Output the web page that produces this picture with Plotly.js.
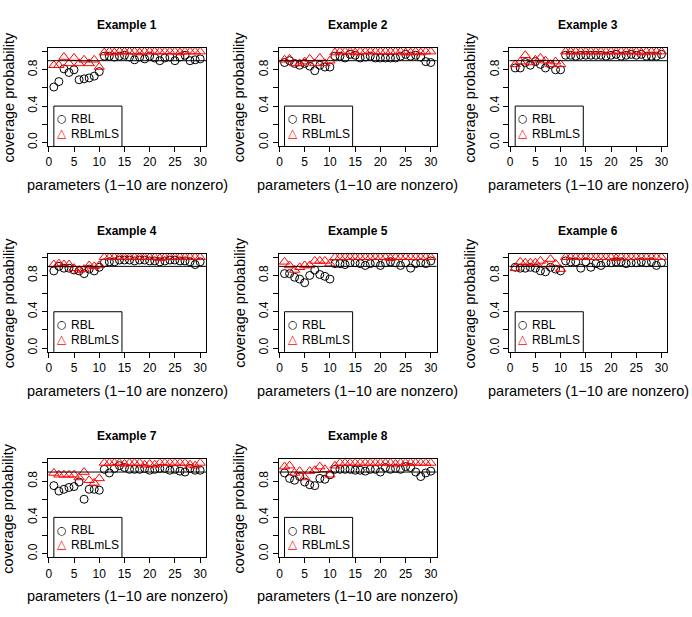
<!DOCTYPE html>
<html>
<head>
<meta charset="utf-8">
<script src="https://cdn.plot.ly/plotly-3.0.1.min.js"></script>
<style>
  html, body { margin: 0; padding: 0; background: #fff; }
  #plot { width: 692px; height: 617px; }
</style>
</head>
<body>
<div id="plot"></div>
<script>
// parameter index (1-10 are nonzero)
const params = [1, 2, 3, 4, 5, 6, 7, 8, 9, 10, 11, 12, 13, 14, 15, 16, 17, 18, 19, 20,
  21, 22, 23, 24, 25, 26, 27, 28, 29, 30];

const exampleNames = ["Example 1", "Example 2", "Example 3", "Example 4",
  "Example 5", "Example 6", "Example 7", "Example 8"];

// coverage probability, RBL
const rbl1 = [0.61, 0.67, 0.81, 0.77, 0.80, 0.69, 0.70, 0.71, 0.73, 0.78,
  0.95, 0.95, 0.94, 0.95, 0.96, 0.94, 0.91, 0.94, 0.92, 0.95,
  0.93, 0.90, 0.93, 0.94, 0.90, 0.94, 0.96, 0.90, 0.91, 0.92];
const rbl2 = [0.88, 0.90, 0.87, 0.85, 0.87, 0.84, 0.79, 0.85, 0.83, 0.83,
  0.95, 0.95, 0.93, 0.97, 0.96, 0.93, 0.94, 0.95, 0.93, 0.93,
  0.93, 0.93, 0.93, 0.95, 0.97, 0.95, 0.96, 0.94, 0.89, 0.88];
const rbl3 = [0.82, 0.82, 0.88, 0.85, 0.89, 0.86, 0.82, 0.86, 0.80, 0.80,
  0.96, 0.96, 0.95, 0.96, 0.96, 0.96, 0.96, 0.96, 0.95, 0.96,
  0.97, 0.95, 0.96, 0.97, 0.96, 0.97, 0.95, 0.95, 0.95, 0.97];
const rbl4 = [0.85, 0.90, 0.88, 0.88, 0.86, 0.85, 0.82, 0.87, 0.85, 0.89,
  0.94, 0.95, 0.95, 0.97, 0.97, 0.97, 0.96, 0.97, 0.97, 0.96,
  0.96, 0.95, 0.96, 0.97, 0.97, 0.96, 0.96, 0.95, 0.92, 0.95];
const rbl5 = [0.82, 0.82, 0.78, 0.76, 0.72, 0.80, 0.86, 0.81, 0.79, 0.76,
  0.93, 0.93, 0.92, 0.94, 0.94, 0.93, 0.91, 0.93, 0.94, 0.91,
  0.94, 0.95, 0.94, 0.91, 0.94, 0.88, 0.93, 0.94, 0.93, 0.96];
const rbl6 = [0.89, 0.88, 0.88, 0.89, 0.88, 0.85, 0.84, 0.89, 0.87, 0.85,
  0.96, 0.95, 0.95, 0.88, 0.95, 0.89, 0.93, 0.91, 0.94, 0.94,
  0.95, 0.95, 0.93, 0.94, 0.94, 0.95, 0.94, 0.95, 0.91, 0.94];
const rbl7 = [0.75, 0.69, 0.71, 0.73, 0.74, 0.79, 0.60, 0.71, 0.71, 0.70,
  0.93, 0.89, 0.94, 0.97, 0.95, 0.93, 0.93, 0.93, 0.94, 0.92,
  0.93, 0.94, 0.94, 0.92, 0.93, 0.91, 0.90, 0.94, 0.92, 0.92];
const rbl8 = [0.89, 0.83, 0.81, 0.85, 0.79, 0.76, 0.75, 0.83, 0.82, 0.87,
  0.93, 0.93, 0.93, 0.93, 0.92, 0.92, 0.91, 0.93, 0.93, 0.90,
  0.95, 0.93, 0.94, 0.93, 0.96, 0.95, 0.90, 0.85, 0.89, 0.91];

// coverage probability, RBLmLS
const mls1 = [0.85, 0.85, 0.94, 0.87, 0.93, 0.87, 0.91, 0.87, 0.91, 0.83,
  0.99, 1.00, 0.99, 1.00, 1.00, 1.00, 1.00, 0.99, 1.00, 1.00,
  1.00, 1.00, 1.00, 1.00, 1.00, 0.99, 1.00, 1.00, 1.00, 1.00];
const mls2 = [0.91, 0.92, 0.87, 0.87, 0.89, 0.92, 0.87, 0.93, 0.87, 0.90,
  0.99, 1.00, 1.00, 1.00, 0.99, 1.00, 1.00, 1.00, 1.00, 1.00,
  1.00, 1.00, 1.00, 1.00, 0.99, 0.99, 1.00, 0.99, 1.00, 1.00];
const mls3 = [0.86, 0.89, 0.96, 0.88, 0.91, 0.93, 0.90, 0.86, 0.89, 0.86,
  1.00, 1.00, 1.00, 1.00, 1.00, 1.00, 1.00, 1.00, 1.00, 1.00,
  1.00, 1.00, 1.00, 1.00, 1.00, 0.99, 1.00, 1.00, 1.00, 1.00];
const mls4 = [0.92, 0.93, 0.92, 0.92, 0.88, 0.86, 0.87, 0.91, 0.90, 0.91,
  1.00, 1.00, 1.00, 1.00, 1.00, 1.00, 1.00, 1.00, 1.00, 1.00,
  1.00, 0.99, 1.00, 1.00, 1.00, 1.00, 1.00, 1.00, 1.00, 1.00];
const mls5 = [0.95, 0.91, 0.86, 0.89, 0.91, 0.91, 0.96, 0.96, 0.96, 0.93,
  1.00, 1.00, 1.00, 1.00, 1.00, 1.00, 1.00, 1.00, 1.00, 1.00,
  1.00, 0.99, 1.00, 1.00, 1.00, 1.00, 1.00, 1.00, 1.00, 1.00];
const mls6 = [0.88, 0.95, 0.94, 0.94, 0.94, 0.96, 0.92, 0.98, 0.93, 0.87,
  1.00, 1.00, 1.00, 1.00, 1.00, 1.00, 1.00, 1.00, 1.00, 1.00,
  0.99, 1.00, 1.00, 1.00, 1.00, 1.00, 1.00, 1.00, 1.00, 1.00];
const mls7 = [0.89, 0.87, 0.87, 0.87, 0.87, 0.84, 0.90, 0.81, 0.78, 0.83,
  1.00, 1.00, 1.00, 1.00, 0.99, 1.00, 1.00, 1.00, 0.98, 0.99,
  0.98, 1.00, 1.00, 1.00, 1.00, 1.00, 1.00, 0.98, 0.97, 1.00];
const mls8 = [0.96, 0.97, 0.89, 0.91, 0.84, 0.91, 0.92, 0.96, 0.93, 0.87,
  0.97, 1.00, 1.00, 1.00, 1.00, 1.00, 1.00, 1.00, 1.00, 1.00,
  1.00, 1.00, 0.99, 1.00, 1.00, 1.00, 1.00, 1.00, 1.00, 1.00];

const rblSeries = [rbl1, rbl2, rbl3, rbl4, rbl5, rbl6, rbl7, rbl8];
const mlsSeries = [mls1, mls2, mls3, mls4, mls5, mls6, mls7, mls8];

const seriesNames = ["RBL", "RBLmLS"];
const xTicks = [0, 5, 10, 15, 20, 25, 30];
const yTicks = [0, 0.2, 0.4, 0.6, 0.8, 1.0];
const yTickText = ["0.0", "", "0.4", "", "0.8", ""];
const nominal = 0.9;

const W = 692, H = 617;
const cellW = W / 3, cellH = H / 3;
const FONT = "Liberation Sans, Arial, Helvetica, sans-serif";

const data = [];
const layout = {
  width: W, height: H,
  margin: { l: 0, r: 0, t: 0, b: 0 },
  paper_bgcolor: "white",
  plot_bgcolor: "white",
  font: { family: FONT, size: 12, color: "black" },
  showlegend: false,
  shapes: [],
  annotations: []
};

function paperText(text, px, py, opts) {
  return Object.assign({
    text: text, xref: "paper", yref: "paper",
    x: px / W, y: 1 - py / H, showarrow: false,
    xanchor: "center", yanchor: "middle"
  }, opts || {});
}

rblSeries.forEach((rbl, i) => {
  const col = i % 3, row = Math.floor(i / 3);
  const n = i + 1;
  const sfx = n === 1 ? "" : String(n);
  const xa = "x" + sfx, ya = "y" + sfx;

  // plot region in pixels
  const left = col * cellW + 48, right = col * cellW + 206;
  const top = row * cellH + 48, bottom = row * cellH + 146;

  layout["xaxis" + sfx] = {
    domain: [left / W, right / W],
    anchor: ya,
    range: [-0.16, 31.16],
    tickvals: xTicks,
    ticks: "outside", ticklen: 5, tickwidth: 1, tickcolor: "black",
    showline: true, mirror: true, linecolor: "black", linewidth: 1,
    showgrid: false, zeroline: false,
    tickfont: { size: 12, color: "black" }
  };
  layout["yaxis" + sfx] = {
    domain: [1 - bottom / H, 1 - top / H],
    anchor: xa,
    range: [-0.04, 1.04],
    tickvals: yTicks, ticktext: yTickText,
    tickangle: -90,
    ticks: "outside", ticklen: 5, tickwidth: 1, tickcolor: "black",
    showline: true, mirror: true, linecolor: "black", linewidth: 1,
    showgrid: false, zeroline: false,
    tickfont: { size: 12, color: "black" }
  };

  data.push({
    x: params, y: rbl, xaxis: xa, yaxis: ya,
    type: "scatter", mode: "markers", name: seriesNames[0],
    marker: { symbol: "circle-open", size: 8, color: "black", line: { width: 1, color: "black" } },
    hoverinfo: "skip"
  });
  data.push({
    x: params, y: mlsSeries[i], xaxis: xa, yaxis: ya,
    type: "scatter", mode: "markers", name: seriesNames[1],
    marker: { symbol: "triangle-up-open", size: 9, color: "red", line: { width: 1, color: "red" } },
    hoverinfo: "skip"
  });

  // nominal level
  layout.shapes.push({
    type: "line", xref: xa + " domain", yref: ya,
    x0: 0, x1: 1, y0: nominal, y1: nominal,
    line: { color: "black", width: 1 }
  });
  // legend frame, clipped by the plot region like in R
  layout.shapes.push({
    type: "rect", xref: xa, yref: ya,
    x0: 1, x1: 14.5, y0: -0.2, y1: 0.4,
    line: { color: "black", width: 1 }, fillcolor: "rgba(0,0,0,0)"
  });

  // legend keys and labels
  const keyX = left + 14, labX = left + 21;
  const row1 = top + 71, row2 = top + 86;
  layout.annotations.push(paperText("\u25CB", keyX, row1,
    { font: { family: "DejaVu Sans", size: 11, color: "black" } }));
  layout.annotations.push(paperText(seriesNames[0], labX, row1, { xanchor: "left", font: { size: 12 } }));
  layout.annotations.push(paperText("\u25B3", keyX, row2 - 1,
    { font: { family: "DejaVu Sans", size: 12, color: "red" } }));
  layout.annotations.push(paperText(seriesNames[1], labX, row2, { xanchor: "left", font: { size: 12 } }));

  const cx = (left + right) / 2;
  layout.annotations.push(paperText("<b>" + exampleNames[i] + "</b>", cx, row * cellH + 25,
    { font: { size: 12 } }));
  layout.annotations.push(paperText("parameters (1\u221210 are nonzero)", cx, row * cellH + 185,
    { font: { size: 14.5 } }));
  layout.annotations.push(paperText("coverage probability", col * cellW + 8.5, (top + bottom) / 2,
    { textangle: -90, font: { size: 14.5 } }));
});

const config = { staticPlot: true, displayModeBar: false };

Plotly.newPlot("plot", data, layout, config);
</script>
</body>
</html>
